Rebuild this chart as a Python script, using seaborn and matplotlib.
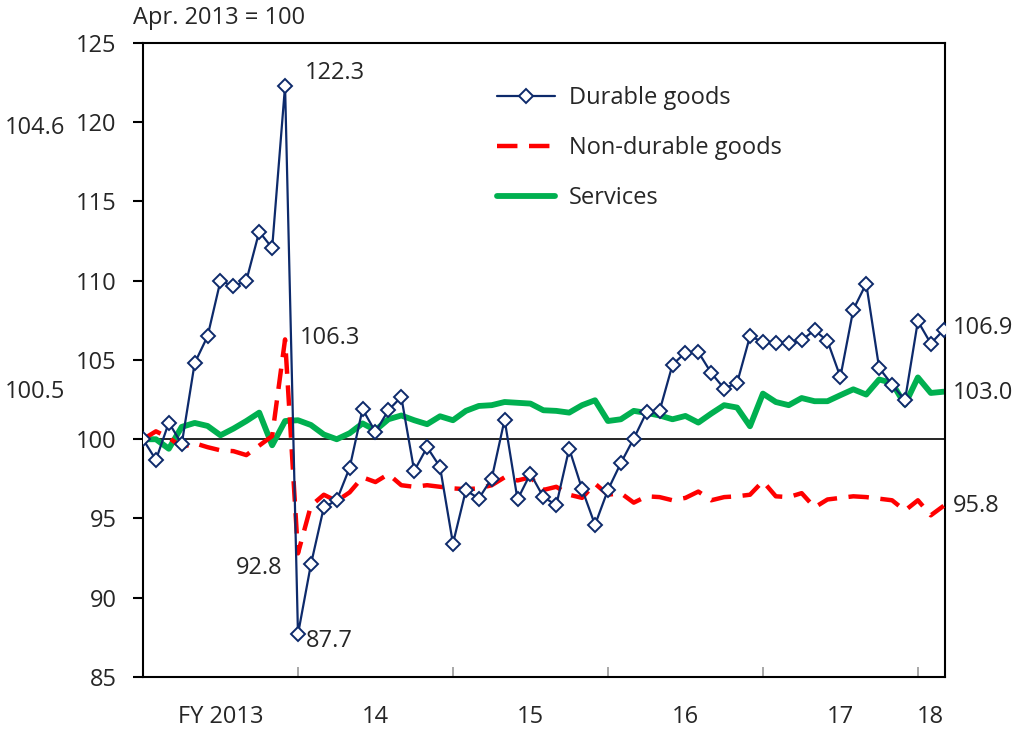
import matplotlib
matplotlib.use("Agg")
import matplotlib.pyplot as plt
import numpy as np
import pandas as pd
import seaborn as sns

# Monthly index, Apr. 2013 = 100 (Apr. 2013 .. Jun. 2018)
durable = [100.0, 98.7, 101.05, 99.7, 104.8, 106.5, 110.0, 109.65, 110.0, 113.1, 112.07, 122.3,
           87.7, 92.1, 95.7, 96.15, 98.2, 101.9, 100.46, 101.83, 102.67, 98.0, 99.5, 98.25,
           93.42, 96.78, 96.26, 97.52, 101.24, 96.2, 97.83, 96.36, 95.84, 99.41, 96.85, 94.6,
           96.8, 98.5, 100.04, 101.72, 101.79, 104.7, 105.47, 105.5, 104.18, 103.2, 103.55, 106.5,
           106.14, 106.08, 106.08, 106.25, 106.88, 106.2, 103.93, 108.18, 109.82, 104.5, 103.45, 102.46,
           107.45, 106.04, 106.9]
nondurable = [100.0, 100.5, 100.1, 99.5, 99.75, 99.5, 99.3, 99.25, 99.0, 99.6, 100.2, 106.3,
              92.8, 95.8, 96.5, 96.1, 96.65, 97.6, 97.3, 97.8, 97.1, 97.0, 97.1, 97.0,
              96.9, 96.85, 96.9, 97.1, 97.6, 97.4, 97.6, 96.8, 97.0, 96.5, 96.3, 97.2,
              96.5, 96.6, 96.0, 96.4, 96.35, 96.15, 96.3, 96.7, 96.15, 96.35, 96.4, 96.5,
              97.35, 96.4, 96.35, 96.6, 95.7, 96.2, 96.3, 96.4, 96.35, 96.25, 96.15, 95.5,
              96.15, 95.2, 95.8]
services = [100.0, 100.0, 99.4, 100.78, 101.03, 100.84, 100.25, 100.67, 101.15, 101.68, 99.62, 101.15,
            101.2, 100.9, 100.3, 100.0, 100.38, 101.0, 100.57, 101.26, 101.5, 101.2, 100.95, 101.45,
            101.2, 101.79, 102.1, 102.15, 102.35, 102.3, 102.25, 101.83, 101.79, 101.68, 102.15, 102.46,
            101.15, 101.26, 101.79, 101.66, 101.5, 101.26, 101.47, 101.05, 101.62, 102.15, 102.0, 100.82,
            102.88, 102.35, 102.15, 102.6, 102.4, 102.4, 102.78, 103.15, 102.82, 103.77, 103.55, 102.19,
            103.9, 102.92, 103.0]
fy_labels = ["FY 2013", "14", "15", "16", "17", "18"]
y_ticks = [85, 90, 95, 100, 105, 110, 115, 120, 125]

month = np.arange(len(durable))
df = pd.DataFrame({"month": month, "Durable goods": durable,
                   "Non-durable goods": nondurable, "Services": services})

sns.set_theme(style="white")
plt.rcParams["font.family"] = ["Open Sans", "DejaVu Sans"]
FS = 17

fig = plt.figure(figsize=(10.15, 7.31), dpi=100)
ax = fig.add_axes([143 / 1015, 1 - 677 / 731, 802 / 1015, 634 / 731])

sns.lineplot(data=df, x="month", y="Durable goods", ax=ax, color="#0d2a6b", linewidth=1.6,
             marker="D", markersize=7, markerfacecolor="white", markeredgecolor="#0d2a6b",
             markeredgewidth=1.4, label="Durable goods", zorder=4)
sns.lineplot(data=df, x="month", y="Non-durable goods", ax=ax, color="#ff0000", linewidth=3.2,
             linestyle=(0, (4.6, 2.6)), label="Non-durable goods", zorder=3)
sns.lineplot(data=df, x="month", y="Services", ax=ax, color="#00b050", linewidth=4.2,
             label="Services", zorder=2)
ax.axhline(100, color="black", linewidth=1.2, zorder=1)

ax.set_xlim(0, 62.1)
ax.set_ylim(85, 125)
ax.set_xlabel("")
ax.set_ylabel("")

ax.set_yticks(y_ticks)
ax.set_yticklabels([str(v) for v in y_ticks], fontsize=FS)
ax.tick_params(axis="y", direction="out", length=7, width=1.5, color="black", pad=12, left=True)

fy_starts = [12, 24, 36, 48, 60]
ax.set_xticks(fy_starts)
ax.set_xticklabels([])
ax.tick_params(axis="x", which="major", direction="in", length=7, width=1.2, color="#999999", bottom=True)
mids = [6, 18, 30, 42, 54, 61]
ax.set_xticks(mids, minor=True)
ax.set_xticklabels(fy_labels, minor=True, fontsize=FS)
ax.tick_params(axis="x", which="minor", length=0, pad=20)

for s in ax.spines.values():
    s.set_visible(True)
    s.set_color("black")
    s.set_linewidth(1.5)

leg = ax.legend(loc="upper left", bbox_to_anchor=((497 - 143) / 802, 1 - (86 - 43) / 634),
                frameon=False, fontsize=FS, handlelength=2.45, handletextpad=0.6,
                labelspacing=1.1, borderpad=0, borderaxespad=0)

ann = dict(textcoords="offset pixels", fontsize=FS, va="center")
last = len(durable) - 1
ax.annotate("122.3", (11, durable[11]), xytext=(20, 13), ha="left", **ann)
ax.annotate("106.3", (11, nondurable[11]), xytext=(15, 1), ha="left", **ann)
ax.annotate("92.8", (12, nondurable[12]), xytext=(-15, -15), ha="right", **ann)
ax.annotate("87.7", (12, durable[12]), xytext=(8, -7), ha="left", **ann)
ax.annotate("106.9", (last, durable[last]), xytext=(9, 2), ha="left", annotation_clip=False, **ann)
ax.annotate("103.0", (last, services[last]), xytext=(9, -1), ha="left", annotation_clip=False, **ann)
ax.annotate("95.8", (last, nondurable[last]), xytext=(9, 0), ha="left", annotation_clip=False, **ann)

fig.text(65 / 1015, 1 - 128 / 731, "104.6", fontsize=FS, ha="right", va="center")
fig.text(65 / 1015, 1 - 392 / 731, "100.5", fontsize=FS, ha="right", va="center")
fig.text(133 / 1015, 1 - 18 / 731, "Apr. 2013 = 100", fontsize=FS, ha="left", va="center")

fig.savefig("out.png", dpi=100)
